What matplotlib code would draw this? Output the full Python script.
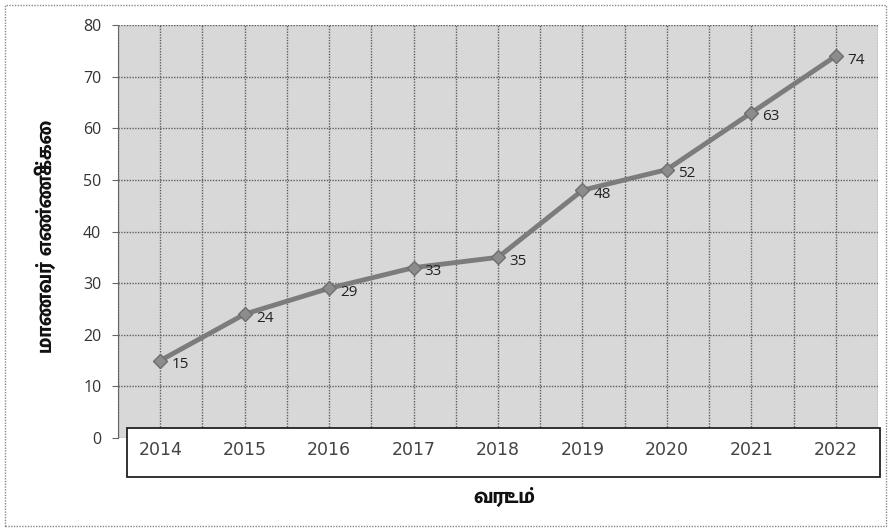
import matplotlib
matplotlib.use("Agg")
import matplotlib.pyplot as plt
from matplotlib.patches import Rectangle
from matplotlib import font_manager as fm
from matplotlib.ft2font import FT2Font

# data
years = ['2014', '2015', '2016', '2017', '2018', '2019', '2020', '2021', '2022']
students = [15, 24, 29, 33, 35, 48, 52, 63, 74]
y_ticks = [0, 10, 20, 30, 40, 50, 60, 70, 80]
x_title = 'வருடம்'
y_title = 'மாணவர் எண்ணிக்கை'

# look for an installed font that has Tamil letters, bold one if there is one
tamil_files = []
for f in fm.fontManager.ttflist:
    try:
        if FT2Font(f.fname).get_char_index(0x0BAE):
            tamil_files.append(f)
    except Exception:
        pass
tamil_files.sort(key=lambda f: -(f.weight if isinstance(f.weight, int) else 400))
if tamil_files:
    tamil_prop = dict(fontproperties=fm.FontProperties(fname=tamil_files[0].fname, size=15.5))
else:
    tamil_prop = dict(fontsize=15.5, fontweight='bold')

fig = plt.figure(figsize=(8.9, 5.31), dpi=100)
ax = fig.add_axes([0.1326, 0.1751, 0.854, 0.7778])

x = list(range(len(years)))
ax.set_facecolor('#d8d8d8')
ax.plot(x, students, color='#7c7c7c', linewidth=3.5, marker='D', markersize=7,
        markerfacecolor='#8c8c8c', markeredgecolor='#6e6e6e', zorder=3)
for i, v in enumerate(students):
    ax.annotate(str(v), (i, v), xytext=(8, -3), textcoords='offset points',
                ha='left', va='center', fontsize=11, family='Open Sans', color='#222222')

ax.set_xlim(-0.5, 8.5)
ax.set_ylim(0, 80)
ax.set_yticks(y_ticks)
ax.set_yticklabels([str(t) for t in y_ticks], family='Open Sans', fontsize=11.5, color='#333333')
ax.set_xticks(x)
ax.set_xticks([i + 0.5 for i in range(-1, len(years))], minor=True)
ax.tick_params(axis='x', which='both', length=0, labelbottom=False)
ax.tick_params(axis='y', length=4, color='#666666', pad=8)
ax.grid(True, which='both', axis='x', color='#5e5e5e', linestyle=(0, (1, 1)), linewidth=1)
ax.grid(True, which='major', axis='y', color='#5e5e5e', linestyle=(0, (1, 1)), linewidth=1)
for s in ['top', 'right', 'bottom']:
    ax.spines[s].set_visible(False)
ax.spines['left'].set_color('#666666')
ax.spines['left'].set_linestyle((0, (1, 1)))

# white box holding the year labels
ax.add_patch(Rectangle((0.012, -0.094), 0.991, 0.118, transform=ax.transAxes,
                       facecolor='white', edgecolor='#222222', linewidth=1.3,
                       clip_on=False, zorder=4))
for i, yr in enumerate(years):
    ax.text(i, -0.03, yr, transform=ax.get_xaxis_transform(), ha='center', va='center',
            fontsize=12.5, family='DejaVu Sans', color='#444444', zorder=5, clip_on=False)

fig.text(0.567, 0.064, x_title, ha='center', va='center', color='#111111', **tamil_prop)
fig.text(0.052, 0.555, y_title, ha='center', va='center', rotation=90, color='#111111',
         **tamil_prop)

# dotted frame round the whole chart
fig.patches.append(Rectangle((0.006, 0.01), 0.99, 0.98, transform=fig.transFigure,
                             facecolor='none', edgecolor='#888888', linewidth=1,
                             linestyle=(0, (1, 1)), zorder=0))

fig.savefig('out.png', dpi=100)
